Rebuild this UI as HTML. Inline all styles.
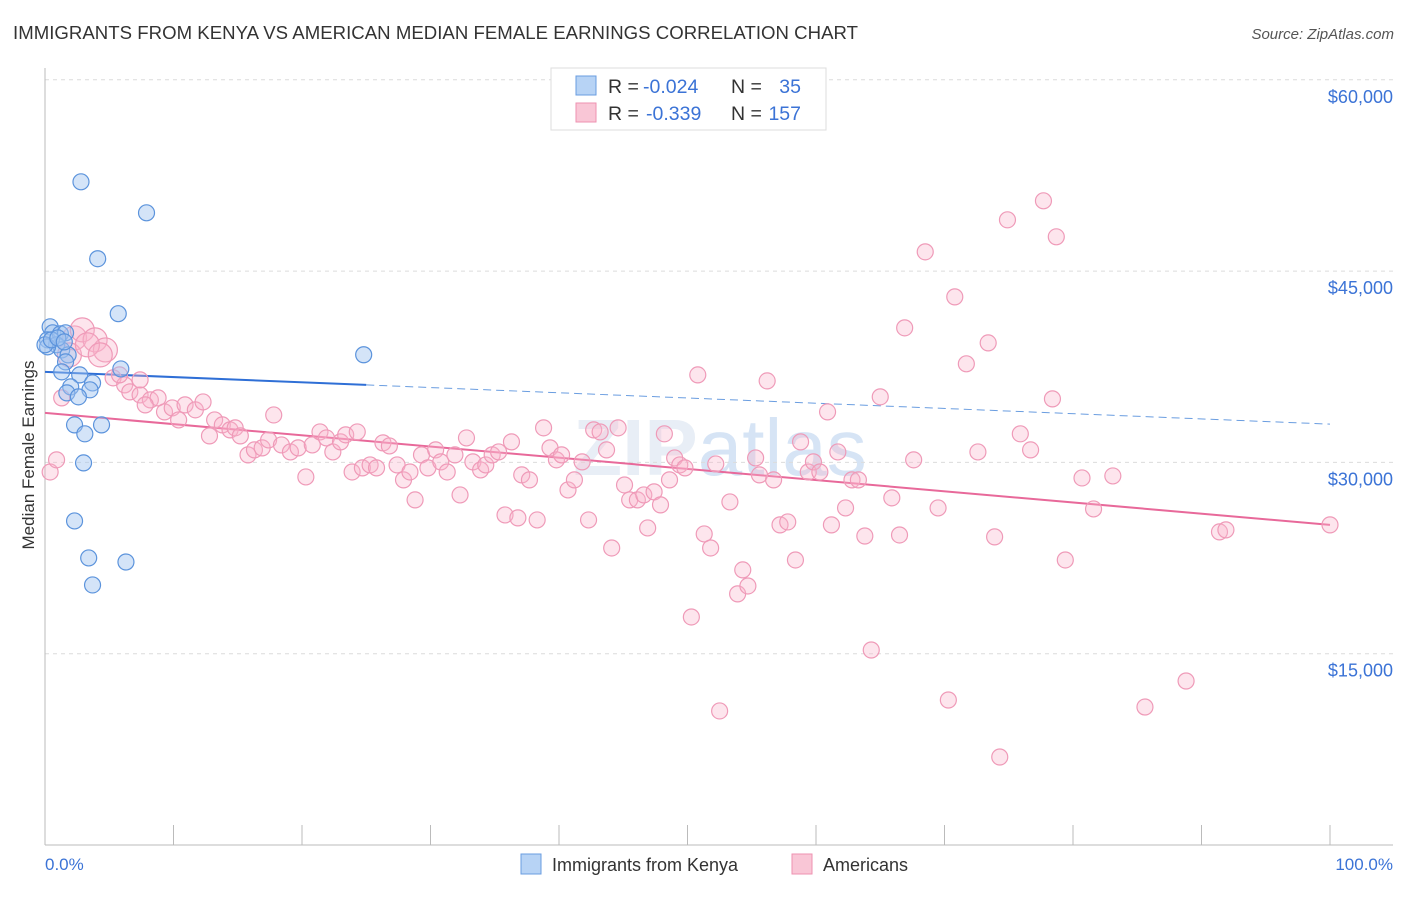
<!DOCTYPE html>
<html><head><meta charset="utf-8"><style>
body{margin:0;background:#fff;font-family:"Liberation Sans",sans-serif;}
svg text{font-family:"Liberation Sans",sans-serif;}
</style></head><body>
<svg id="chart" width="1406" height="892">
<text x="13" y="39" font-size="18.6" fill="#333" textLength="845">IMMIGRANTS FROM KENYA VS AMERICAN MEDIAN FEMALE EARNINGS CORRELATION CHART</text>
<text x="1394" y="39" font-size="15" fill="#555" font-style="italic" text-anchor="end">Source: ZipAtlas.com</text>
<text x="720" y="475" font-size="80" fill="#e8eef6" text-anchor="middle" font-weight="bold">ZIP<tspan fill="#d6e4f5" font-weight="normal">atlas</tspan></text>
<g id="grid"></g>
<g id="axes"></g>
<g id="trends"></g>
<g id="pts"></g>
<text transform="translate(34,455) rotate(-90)" font-size="17" fill="#333" text-anchor="middle">Median Female Earnings</text>
<text x="45" y="870" font-size="17" fill="#3b73d6">0.0%</text>
<text x="1393" y="870" font-size="17" fill="#3b73d6" text-anchor="end">100.0%</text>
<g>
<rect x="551" y="68" width="275" height="62" fill="#fff" stroke="#ddd"/>
<rect x="576" y="76" width="20" height="19" fill="#b7d3f5" stroke="#6a9de0"/>
<rect x="576" y="103" width="20" height="19" fill="#f9c6d6" stroke="#ee92b0"/>
<text x="608" y="93" font-size="19.5" fill="#333">R =</text>
<text x="643" y="93" font-size="19.5" fill="#3b73d6">-0.024</text>
<text x="731" y="93" font-size="19.5" fill="#333">N =</text>
<text x="801" y="93" font-size="19.5" fill="#3b73d6" text-anchor="end">35</text>
<text x="608" y="120" font-size="19.5" fill="#333">R =</text>
<text x="646" y="120" font-size="19.5" fill="#3b73d6">-0.339</text>
<text x="731" y="120" font-size="19.5" fill="#333">N =</text>
<text x="801" y="120" font-size="19.5" fill="#3b73d6" text-anchor="end">157</text>
</g>
<g>
<rect x="521" y="854" width="20" height="20" fill="#b7d3f5" stroke="#6a9de0"/>
<text x="552" y="871" font-size="18" fill="#333">Immigrants from Kenya</text>
<rect x="792" y="854" width="20" height="20" fill="#f9c6d6" stroke="#ee92b0"/>
<text x="823" y="871" font-size="18" fill="#333">Americans</text>
</g>
</svg>
<script>
const yTicks=[15000,30000,45000,60000];
const yTickLabels=["$15,000","$30,000","$45,000","$60,000"];
const xTicks=[0,10,20,30,40,50,60,70,80,90,100];
const blueX=[2.8,7.9,4.1,5.7,24.8,0.4,0.6,0.2,1.2,1.6,0.9,1.3,0.2,1.8,1.6,5.9,1.3,2.7,2.0,3.7,3.5,1.7,2.6,2.3,4.4,3.1,3.0,2.3,3.4,6.3,3.7,0,0.5,1.0,1.5];
const blueY=[52000,49570,45970,41660,38440,40630,40160,39610,40080,40160,39220,38820,39060,38430,37880,37330,37100,36860,35920,36230,35690,35450,35140,32940,32940,32240,29960,25410,22510,22190,20390,39220,39610,39760,39450];
const pinkX=[0.4,0.9,1.3,2.3,2.9,3.9,4.7,1.9,5.3,6.2,6.6,7.4,8.2,8.8,7.8,9.3,9.9,10.4,10.9,11.7,12.3,12.8,13.2,13.8,14.4,14.8,15.2,15.8,16.3,16.9,17.4,17.8,18.4,19.1,19.7,20.3,20.8,21.4,21.9,22.4,23.0,23.4,23.9,24.3,24.7,25.3,25.8,26.3,26.8,27.4,27.9,28.4,28.8,29.3,29.8,30.4,30.8,31.3,31.9,32.3,32.8,33.3,33.9,34.3,34.8,35.3,35.8,36.3,36.8,37.1,37.7,38.3,38.8,39.3,39.8,40.2,40.7,41.2,41.8,42.3,42.7,43.2,43.7,44.1,44.6,45.1,45.5,46.1,46.6,46.9,47.4,47.9,48.2,48.6,49.0,49.4,49.8,50.3,50.8,51.3,51.8,52.2,52.5,53.3,53.9,54.3,54.7,55.3,55.6,56.2,56.7,57.2,57.8,58.4,58.8,59.4,59.8,60.3,60.9,61.2,61.7,62.3,62.8,63.3,63.8,64.3,65.0,65.9,66.5,66.9,67.6,68.5,69.5,70.3,70.8,71.7,72.6,73.4,73.9,74.9,75.9,76.7,77.7,78.4,78.7,79.4,80.7,81.6,83.1,85.6,88.8,91.4,91.9,100,74.3,7.4,5.8,3.3,4.3];
const pinkY=[29250,30200,35060,39760,40390,39610,38820,38430,36630,36080,35530,35290,34900,35060,34510,33960,34270,33330,34510,34120,34740,32080,33330,32940,32550,32710,32080,30590,30980,31140,31760,33720,31370,30820,31140,28860,31370,32390,31920,30820,31610,32160,29250,32390,29570,29800,29570,31530,31290,29800,28630,29250,27060,30590,29570,30980,30040,29250,30590,27450,31920,30040,29410,29800,30590,30820,25880,31610,25650,29020,28630,25490,32710,31140,30200,30590,27840,28630,30040,25490,32550,32390,30980,23290,32710,28230,27060,27060,27450,24860,27690,26670,32240,28630,30350,29800,29570,17880,36860,24390,23290,29880,10510,26900,19690,21570,20310,30350,29020,36390,28630,25100,25330,22350,31610,29250,30040,29250,33960,25100,30820,26430,28630,28630,24230,15290,35140,27220,24310,40550,30200,46510,26430,11370,42980,37730,30820,39370,24160,49020,32240,30980,50510,34980,47690,22350,28780,26350,28940,10820,12860,24550,24710,25100,6900,36470,36860,39220,38430];
const blueTrend=[37100,33000];
const pinkTrend=[33880,25100];
const blueSolidEnd=25;
const NS="http://www.w3.org/2000/svg";
const X=v=>45+v*12.85;
const Y=v=>845-v/15000*191.3;
function mk(tag,attrs,parent){const e=document.createElementNS(NS,tag);for(const k in attrs)e.setAttribute(k,attrs[k]);parent.appendChild(e);return e;}
const grid=document.getElementById('grid'),axes=document.getElementById('axes'),tr=document.getElementById('trends'),pts=document.getElementById('pts');
yTicks.forEach((t,i)=>{
 const l=mk('line',{x1:45,x2:1393,y1:Y(t),y2:Y(t),stroke:'#dcdcdc','stroke-dasharray':'4,4'},grid);
 
 
 const tx=mk('text',{x:1393,y:Y(t)+23,'font-size':18,fill:'#3b73d6','text-anchor':'end'},grid);
 tx.textContent=yTickLabels[i];
 
 
});
const ya=mk('line',{x1:45,x2:45,y1:68,y2:845,stroke:'#bbb'},axes);


const xa=mk('line',{x1:45,x2:1393,y1:845,y2:845,stroke:'#bbb'},axes);


xTicks.forEach(t=>{
 const l=mk('line',{x1:X(t),x2:X(t),y1:825,y2:845,stroke:'#bbb'},axes);
 
 
});
function trendAt(a,x){return a[0]+(a[1]-a[0])*x/100;}
const b1=mk('line',{x1:X(0),y1:Y(trendAt(blueTrend,0)),x2:X(blueSolidEnd),y2:Y(trendAt(blueTrend,blueSolidEnd)),stroke:'#2f6fd6','stroke-width':2},tr);


const b2=mk('line',{x1:X(blueSolidEnd),y1:Y(trendAt(blueTrend,blueSolidEnd)),x2:X(100),y2:Y(trendAt(blueTrend,100)),stroke:'#6a9de0','stroke-width':1,'stroke-dasharray':'8,5'},tr);


const p1=mk('line',{x1:X(0),y1:Y(pinkTrend[0]),x2:X(100),y2:Y(pinkTrend[1]),stroke:'#e8699a','stroke-width':2},tr);


pinkX.forEach((x,i)=>{
 const r=(x<5&&pinkY[i]>37000)?12:8;
 const c=mk('circle',{cx:X(x),cy:Y(pinkY[i]),r:r,fill:'rgba(248,180,202,0.35)',stroke:'#ef9ab8','stroke-width':1.2},pts);
 
 
});
blueX.forEach((x,i)=>{
 const c=mk('circle',{cx:X(x),cy:Y(blueY[i]),r:8,fill:'rgba(160,196,240,0.45)',stroke:'#5b93dc','stroke-width':1.2},pts);
 
 
});
</script>
</body></html>
